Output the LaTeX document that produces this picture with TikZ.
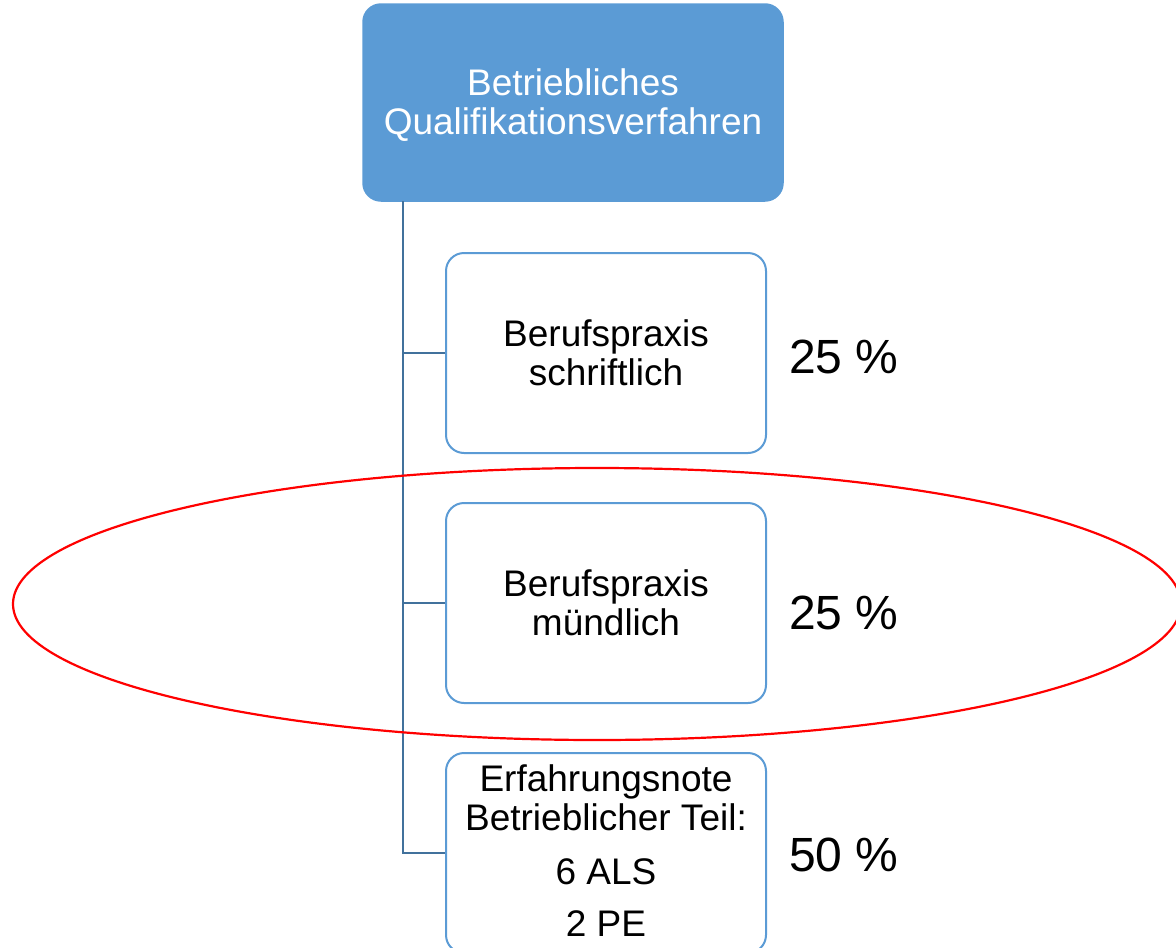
\documentclass[tikz,border=0pt]{standalone}
\usepackage{fontspec}
\setmainfont{Liberation Sans}
\definecolor{boxblue}{HTML}{5B9BD5}
\definecolor{connblue}{HTML}{41719C}
\begin{document}
\begin{tikzpicture}[x=1pt,y=-1pt,
  topbox/.style={draw=boxblue, fill=boxblue, rounded corners=18pt, line width=1.5pt,
    minimum width=420pt, minimum height=197pt, inner sep=0pt, text=white, align=center,
    font=\fontsize{37}{39}\selectfont},
  childbox/.style={draw=boxblue, fill=white, rounded corners=18pt, line width=2pt,
    minimum width=320pt, minimum height=200pt, inner sep=0pt, align=center,
    font=\fontsize{37}{39}\selectfont},
  pct/.style={anchor=west, inner sep=0pt, font=\fontsize{48}{53}\selectfont},
  conn/.style={draw=connblue, line width=2pt},
  ring/.style={draw=red, line width=2.2pt}]
\useasboundingbox (0,0) rectangle (1176,948);
\node[topbox, text depth=2pt] (top) at (573,102.5) {Betriebliches\\Qualifikationsverfahren};
\node[childbox] (b1) at (606,353) {Berufspraxis\\schriftlich};
\node[childbox] (b2) at (606,603) {Berufspraxis\\mündlich};
\node[childbox] (b3) at (606,853) {Erfahrungsnote\\Betrieblicher Teil:\\[15pt]6 ALS\\[13pt]2 PE\\[-35pt]};
\coordinate (trunk) at (403,201);
\draw[conn] (trunk) |- (b3.west);
\draw[conn] (b1.west) -- (b1.west -| trunk);
\draw[conn] (b2.west) -- (b2.west -| trunk);
\node[pct] (p1) at (789,357) {25 \%};
\node[pct] (p2) at (789,613) {25 \%};
\node[pct] (p3) at (789,855) {50 \%};
\draw[ring] (597,604) ellipse [x radius=584, y radius=136];
\end{tikzpicture}
\end{document}
